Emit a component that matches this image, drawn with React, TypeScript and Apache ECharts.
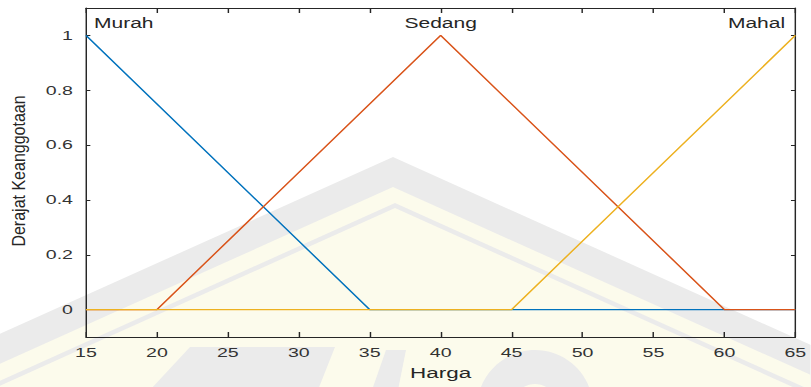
import React, { useEffect, useRef } from "react";
import * as echarts from "echarts";

// Membership functions of the fuzzy variable "Harga"
const setNames = ["Murah", "Sedang", "Mahal"];
const murahX = [15, 35, 65];
const murahY = [1, 0, 0];
const sedangX = [15, 20, 40, 60, 65];
const sedangY = [0, 0, 1, 0, 0];
const mahalX = [15, 45, 65];
const mahalY = [0, 0, 1];
const peakX = [15, 40, 65];
const labelY = 1.045;

const hargaMin = 15;
const hargaMax = 65;
const hargaStep = 5;
const derajatTicks = [0, 0.2, 0.4, 0.6, 0.8, 1];

const colors = ["#0072BD", "#D95319", "#EDB120"];

// The figure is drawn narrow and widened horizontally as a whole
const S = 1.45;
const FULL_W = 811;
const W = FULL_W / S;
const H = 387;

const FONT = "'Liberation Sans', Arial, Helvetica, sans-serif";

const pairs = (xs: number[], ys: number[]) => xs.map((x, i) => [x, ys[i]]);

// background crest shape (in final pixel coordinates)
const crest = (apexX: number, apexY: number) => {
  const bottom = 440;
  const half = (bottom - apexY) / 0.45;
  return [
    [(apexX - half) / S, bottom],
    [apexX / S, apexY],
    [(apexX + half) / S, bottom],
  ];
};
const poly = (pts: number[][]) => pts.map(([x, y]) => [x / S, y]);

export default function App() {
  const ref = useRef<HTMLDivElement>(null);

  useEffect(() => {
    if (!ref.current) return;
    const chart = echarts.init(ref.current, null, { renderer: "svg" });

    const axisLine = { show: true, onZero: false, lineStyle: { color: "#262626", width: 1 } };
    const xs = [murahX, sedangX, mahalX];
    const ys = [murahY, sedangY, mahalY];
    const aligns = ["left", "center", "right"];
    const offs = [[5.5, 0], [0, 0], [-7, 0]];
    const grey = "#ebebeb";
    const cream = "#fcfbec";

    chart.setOption({
      animation: false,
      backgroundColor: "#ffffff",
      textStyle: { fontFamily: FONT },
      grid: { left: 86 / S, right: W - 798 / S, top: 8, bottom: 50 },
      graphic: [
        { type: "polygon", z: -10, silent: true, shape: { points: crest(393, 157) }, style: { fill: grey } },
        { type: "polygon", z: -10, silent: true, shape: { points: crest(393, 187) }, style: { fill: cream } },
        { type: "polygon", z: -10, silent: true, shape: { points: crest(395, 203) }, style: { fill: grey } },
        { type: "polygon", z: -10, silent: true, shape: { points: crest(395, 208) }, style: { fill: cream } },
        {
          type: "polygon", z: -9, silent: true,
          shape: { points: poly([[150, 390], [190, 347], [335, 347], [318, 390]]) },
          style: { fill: grey },
        },
        {
          type: "polygon", z: -9, silent: true,
          shape: { points: poly([[372, 390], [386, 350], [406, 350], [398, 390]]) },
          style: { fill: grey },
        },
        {
          type: "ellipse", z: -9, silent: true,
          shape: { cx: 535 / S, cy: 408, rx: 58 / S, ry: 58 },
          style: { fill: grey },
        },
        {
          type: "ellipse", z: -9, silent: true,
          shape: { cx: 535 / S, cy: 410, rx: 24 / S, ry: 26 },
          style: { fill: cream },
        },
        {
          type: "text",
          x: 19.5 / S,
          y: 171,
          rotation: Math.PI / 2,
          scaleY: 0.78,
          style: {
            text: "Derajat Keanggotaan",
            font: `16px ${FONT}`,
            fill: "#262626",
            align: "center",
            verticalAlign: "middle",
          },
        },
      ],
      xAxis: [
        {
          type: "value",
          min: hargaMin,
          max: hargaMax,
          interval: hargaStep,
          axisLine,
          axisTick: { show: true, inside: true, length: 5, lineStyle: { color: "#262626" } },
          axisLabel: { margin: 9, fontSize: 13.5, color: "#333333", fontFamily: FONT },
          splitLine: { show: false },
          name: "Harga",
          nameLocation: "middle",
          nameGap: 28,
          nameTextStyle: { fontSize: 15.5, color: "#262626", fontFamily: FONT },
        },
        {
          type: "value",
          position: "top",
          min: hargaMin,
          max: hargaMax,
          interval: hargaStep,
          axisLine,
          axisTick: { show: true, inside: true, length: 5, lineStyle: { color: "#262626" } },
          axisLabel: { show: false },
          splitLine: { show: false },
        },
      ],
      yAxis: [
        {
          type: "value",
          min: -0.1,
          max: 1.1,
          axisLine,
          axisTick: { show: true, inside: true, length: 3, customValues: derajatTicks, lineStyle: { color: "#262626" } },
          axisLabel: {
            margin: 9,
            fontSize: 13.5,
            color: "#333333",
            fontFamily: FONT,
            customValues: derajatTicks,
            formatter: (v: number) => String(Math.round(v * 10) / 10),
          },
          splitLine: { show: false },
        },
        {
          type: "value",
          position: "right",
          min: -0.1,
          max: 1.1,
          axisLine,
          axisTick: { show: true, inside: true, length: 3, customValues: derajatTicks, lineStyle: { color: "#262626" } },
          axisLabel: { show: false },
          splitLine: { show: false },
        },
      ],
      series: setNames.map((name, i) => ({
        name,
        type: "line",
        xAxisIndex: 0,
        yAxisIndex: 0,
        data: pairs(xs[i], ys[i]),
        showSymbol: false,
        symbol: "none",
        lineStyle: { color: colors[i], width: 1.2 },
        itemStyle: { color: colors[i] },
        z: 2 + i,
        markPoint: {
          symbol: "circle",
          symbolSize: 0,
          silent: true,
          itemStyle: { color: "transparent" },
          label: {
            show: true,
            position: "inside",
            formatter: name,
            align: aligns[i],
            verticalAlign: "middle",
            offset: offs[i],
            fontSize: 14.5,
            color: "#262626",
            fontFamily: FONT,
          },
          data: [{ coord: [peakX[i], labelY] }],
        },
      })),
    });

    return () => chart.dispose();
  }, []);

  return (
    <div
      ref={ref}
      style={{
        position: "absolute",
        left: 0,
        top: 0,
        width: W,
        height: H,
        transform: `scaleX(${S})`,
        transformOrigin: "0 0",
      }}
    />
  );
}
